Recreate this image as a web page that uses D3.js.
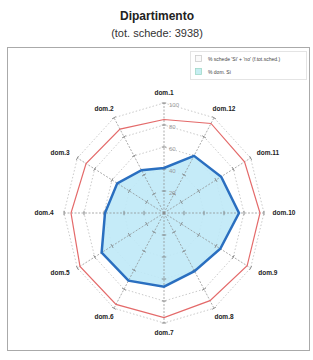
<!DOCTYPE html>
<html><head><meta charset="utf-8">
<script src="https://cdn.jsdelivr.net/npm/d3@7"></script>
<style>body{margin:0;background:#fff}</style>
</head><body>
<script>
const categories = ["dom.1","dom.2","dom.3","dom.4","dom.5","dom.6","dom.7","dom.8","dom.9","dom.10","dom.11","dom.12"];
const seriesRed  = [85, 88, 90, 93, 97, 96, 95, 92, 96, 96, 93, 94];
const seriesBlue = [41, 45, 54, 59, 72, 71, 67, 61, 65, 75, 66, 60];
const ringTicks = [20, 40, 60, 80, 100];
const legendLabels = ["% schede 'Si' + 'no' (f.tot.sched.)", "% dom. Si"];

const W = 313, H = 360, cx = 164, cy = 213;
const svg = d3.select("body").append("svg").attr("width", W).attr("height", H)
  .style("font-family", "'Liberation Sans', Arial, sans-serif");

const rX = d3.scaleLinear().domain([0, 100]).range([0, 100]);
const rY = d3.scaleLinear().domain([0, 100]).range([0, 110]);
const ang = d3.scaleLinear().domain([0, categories.length]).range([0, -2 * Math.PI]);
const px = (i, v) => cx + Math.sin(ang(i)) * rX(v);
const py = (i, v) => cy - Math.cos(ang(i)) * rY(v);

// frame
svg.append("rect").attr("x", 7.5).attr("y", 47.5).attr("width", 302).attr("height", 303)
  .attr("fill", "none").attr("stroke", "#aaa").attr("stroke-width", 1);

// title
svg.append("text").attr("x", 157).attr("y", 20).attr("text-anchor", "middle")
  .attr("font-size", 12).attr("font-weight", "bold").attr("fill", "#222").text("Dipartimento");
svg.append("text").attr("x", 157).attr("y", 37).attr("text-anchor", "middle")
  .attr("font-size", 11).attr("fill", "#333").text("(tot. schede: 3938)");

// rings
const line = d3.line().curve(d3.curveLinearClosed);
ringTicks.forEach(t => {
  svg.append("path").attr("d", line(categories.map((c, i) => [px(i, t), py(i, t)])))
    .attr("fill", "none").attr("stroke", "#bbb").attr("stroke-width", 0.8).attr("stroke-dasharray", "1.5,2");
});

// blue area
svg.append("path").attr("d", line(seriesBlue.map((v, i) => [px(i, v), py(i, v)])))
  .attr("fill", "#bfe9f7").attr("fill-opacity", 0.9).attr("stroke", "none");

// axes
categories.forEach((c, i) => {
  svg.append("line").attr("x1", cx).attr("y1", cy).attr("x2", px(i, 100)).attr("y2", py(i, 100))
    .attr("stroke", "#888").attr("stroke-width", 0.7).attr("stroke-dasharray", "2,1.5");
  const a = ang(i);
  ringTicks.forEach(t => {
    const x = px(i, t), y = py(i, t);
    const dx = Math.cos(a) * 2.2, dy = Math.sin(a) * 2.2;
    svg.append("line").attr("x1", x - dx).attr("y1", y - dy).attr("x2", x + dx).attr("y2", y + dy)
      .attr("stroke", "#777").attr("stroke-width", 0.8);
  });
});

// tick labels on first axis
ringTicks.forEach(t => {
  svg.append("text").attr("x", px(0, t) + 5).attr("y", py(0, t) + 4)
    .attr("font-size", 6).attr("fill", "#999").text(t);
});

// red line
svg.append("path").attr("d", line(seriesRed.map((v, i) => [px(i, v), py(i, v)])))
  .attr("fill", "none").attr("stroke", "#e46a6a").attr("stroke-width", 1.2);

// blue line
svg.append("path").attr("d", line(seriesBlue.map((v, i) => [px(i, v), py(i, v)])))
  .attr("fill", "none").attr("stroke", "#2a6fc0").attr("stroke-width", 2.5);

// category labels
categories.forEach((c, i) => {
  const a = ang(i);
  svg.append("text").attr("x", cx + Math.sin(a) * 120).attr("y", cy - Math.cos(a) * 120)
    .attr("text-anchor", "middle").attr("dominant-baseline", "middle")
    .attr("font-size", 6.5).attr("font-weight", "bold").attr("fill", "#222").text(c);
});

// legend
const lg = svg.append("g");
lg.append("rect").attr("x", 190.5).attr("y", 51.5).attr("width", 116).attr("height", 28)
  .attr("fill", "#fff").attr("stroke", "#e4e4e4");
const swFill = ["#fafafa", "#c6eef2"], swStroke = ["#ccc", "#9fd8c8"];
legendLabels.forEach((l, k) => {
  lg.append("rect").attr("x", 195.5).attr("y", 55.5 + k * 13).attr("width", 6).attr("height", 6)
    .attr("fill", swFill[k]).attr("stroke", swStroke[k]).attr("stroke-width", 0.8);
  lg.append("text").attr("x", 208).attr("y", 60.5 + k * 13).attr("font-size", 5)
    .attr("fill", "#444").text(l);
});
</script>
</body></html>
